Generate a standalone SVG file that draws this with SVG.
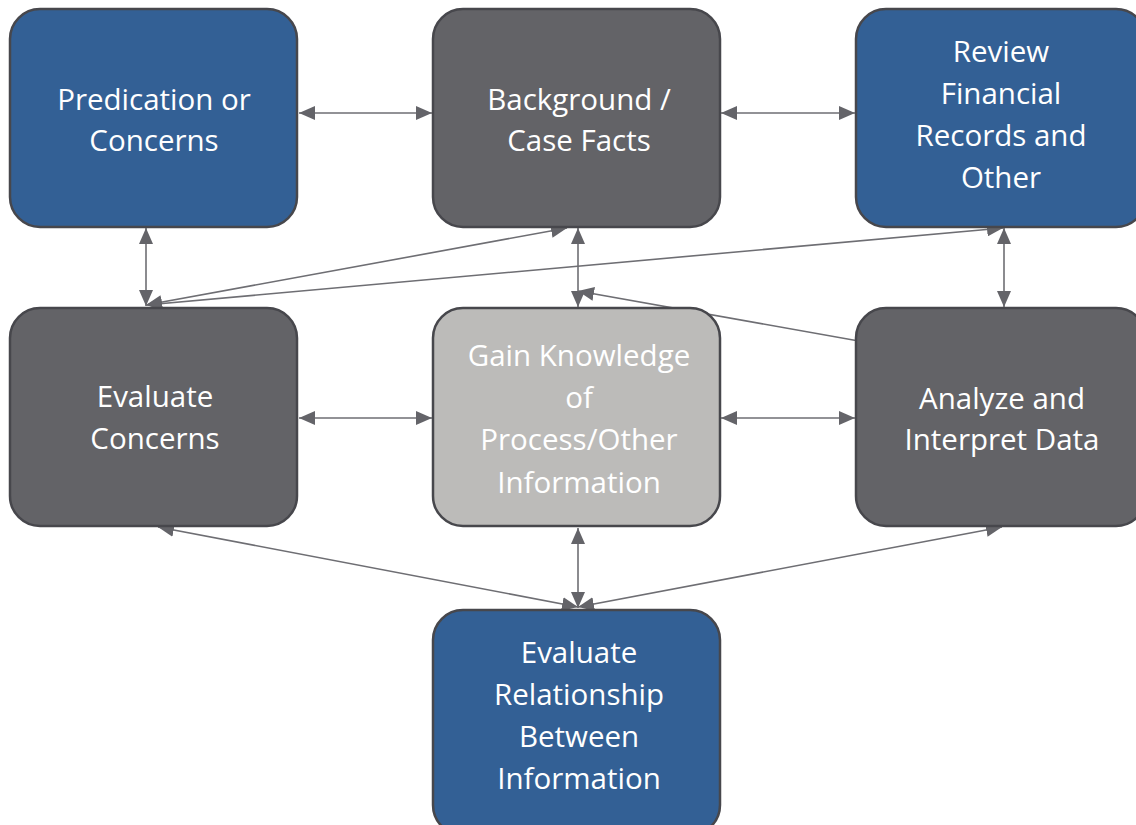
<svg xmlns="http://www.w3.org/2000/svg" width="1136" height="825" viewBox="0 0 1136 825">
<defs>
<marker id="ah" viewBox="0 0 16 14" refX="16" refY="7" markerWidth="16" markerHeight="14" markerUnits="userSpaceOnUse" orient="auto-start-reverse">
<path d="M0,0 L16,7 L0,14 Z" fill="#646469"/>
</marker>
<style>
.n{stroke:#47474c;stroke-width:2.5}
.blue{fill:#336095}
.dark{fill:#636367}
.light{fill:#bcbbb9}
.t{font-family:"Open Sans","Noto Sans",sans-serif;font-size:29.5px;fill:#ffffff;text-anchor:middle}
.c line{stroke:#6e6e73;stroke-width:1.6;marker-start:url(#ah);marker-end:url(#ah)}
.c line.one{marker-start:none}
</style>
</defs>
<rect width="1136" height="825" fill="#ffffff"/>
<g id="connectors" class="c">
<line x1="299" y1="113" x2="432" y2="113"/>
<line x1="721" y1="113" x2="855" y2="113"/>
<line x1="146" y1="228" x2="146" y2="306"/>
<line x1="1004" y1="228" x2="1004" y2="307"/>
<line x1="578" y1="228" x2="578" y2="307"/>
<line x1="146" y1="305" x2="567" y2="228"/>
<line x1="146" y1="305" x2="1003" y2="228"/>
<line class="one" x1="870" y1="343" x2="578" y2="291"/>
<line x1="299" y1="418" x2="432" y2="418"/>
<line x1="721" y1="418" x2="855" y2="418"/>
<line x1="578" y1="528" x2="578" y2="608"/>
<line x1="158" y1="527" x2="578" y2="607"/>
<line x1="1002" y1="527" x2="578" y2="607"/>
</g>
<g id="predication">
<rect class="n blue" x="10" y="9" width="287" height="218" rx="30"/>
<text class="t" x="154" y="110">Predication or</text>
<text class="t" x="154" y="151">Concerns</text>
</g>
<g id="background">
<rect class="n dark" x="433" y="9" width="287" height="218" rx="30"/>
<text class="t" x="579" y="110">Background /</text>
<text class="t" x="579" y="151">Case Facts</text>
</g>
<g id="review">
<rect class="n blue" x="856" y="9" width="290" height="218" rx="30"/>
<text class="t" x="1001" y="62">Review</text>
<text class="t" x="1001" y="104">Financial</text>
<text class="t" x="1001" y="146">Records and</text>
<text class="t" x="1001" y="188">Other</text>
</g>
<g id="evaluate-concerns">
<rect class="n dark" x="10" y="308" width="287" height="218" rx="30"/>
<text class="t" x="155" y="407">Evaluate</text>
<text class="t" x="155" y="449">Concerns</text>
</g>
<g id="gain-knowledge">
<rect class="n light" x="433" y="308" width="287" height="218" rx="30"/>
<text class="t" x="579" y="366">Gain Knowledge</text>
<text class="t" x="579" y="408">of</text>
<text class="t" x="579" y="450">Process/Other</text>
<text class="t" x="579" y="493">Information</text>
</g>
<g id="analyze">
<rect class="n dark" x="856" y="308" width="290" height="218" rx="30"/>
<text class="t" x="1002" y="409">Analyze and</text>
<text class="t" x="1002" y="450">Interpret Data</text>
</g>
<g id="evaluate-relationship">
<rect class="n blue" x="433" y="610" width="287" height="225" rx="30"/>
<text class="t" x="579" y="663">Evaluate</text>
<text class="t" x="579" y="705">Relationship</text>
<text class="t" x="579" y="747">Between</text>
<text class="t" x="579" y="789">Information</text>
</g>
</svg>
